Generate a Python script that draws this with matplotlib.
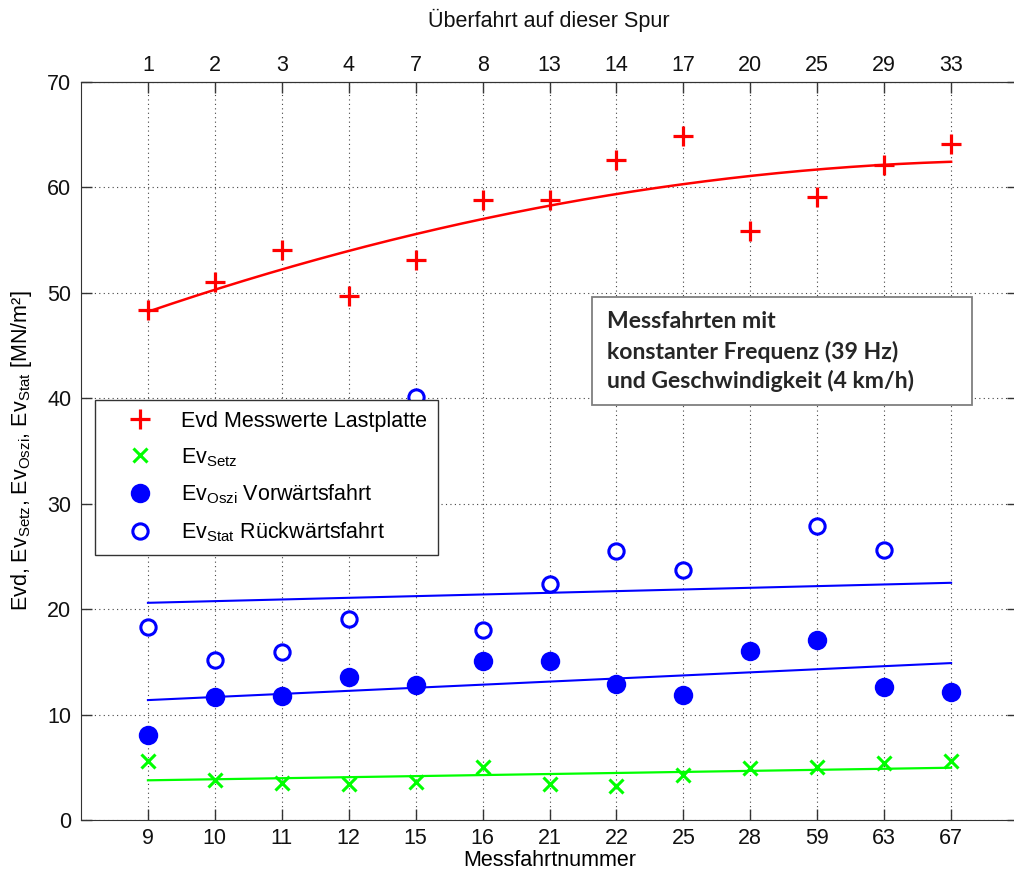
import numpy as np
import matplotlib
matplotlib.use("Agg")
import matplotlib.pyplot as plt
from matplotlib.patches import Rectangle

plt.rcParams["font.family"] = ["Liberation Sans", "DejaVu Sans"]
plt.rcParams["mathtext.fontset"] = "custom"
plt.rcParams["mathtext.rm"] = "Liberation Sans"
plt.rcParams["mathtext.default"] = "regular"

# --- data -------------------------------------------------------------
messfahrt_nr = ["9", "10", "11", "12", "15", "16", "21", "22", "25", "28", "59", "63", "67"]
ueberfahrt_nr = ["1", "2", "3", "4", "7", "8", "13", "14", "17", "20", "25", "29", "33"]

evd_lastplatte = [48.4, 51.0, 54.1, 49.7, 53.1, 58.8, 58.8, 62.6, 64.9, 55.9, 59.1, 62.1, 64.1]
ev_setz = [5.6, 3.8, 3.5, 3.4, 3.6, 5.0, 3.4, 3.2, 4.3, 4.9, 5.0, 5.4, 5.6]
ev_oszi = [8.05, 11.7, 11.8, 13.6, 12.8, 15.06, 15.06, 12.9, 11.9, 16.0, 17.1, 12.6, 12.1]
ev_stat = [18.3, 15.2, 15.9, 19.1, 40.1, 18.0, 22.4, 25.5, 23.7, np.nan, 27.9, 25.6, np.nan]

# trend of Ev_Stat (values at first and last Messfahrt)
ev_stat_trend = [20.6, 22.5]

# --- figure -----------------------------------------------------------
W, H = 1014, 877
fig = plt.figure(figsize=(W / 100, H / 100), dpi=100)
x_pos = np.arange(1, len(messfahrt_nr) + 1)
step = 66.93
ax = fig.add_axes([81 / W, 1 - 820 / H, 14 * step / W, (820 - 82) / H])

RED, GREEN, BLUE = "#ff0000", "#00ff00", "#0000ff"
FS = 15.5

# trend curves
xs = np.linspace(x_pos[0], x_pos[-1], 200)
ax.plot(xs, np.polyval(np.polyfit(x_pos, evd_lastplatte, 2), xs), color=RED, lw=1.8, zorder=3)
ax.plot(xs, np.polyval(np.polyfit(x_pos, ev_setz, 1), xs), color=GREEN, lw=1.6, zorder=3)
ax.plot(xs, np.polyval(np.polyfit(x_pos, ev_oszi, 1), xs), color=BLUE, lw=1.5, zorder=3)
ax.plot([x_pos[0], x_pos[-1]], ev_stat_trend, color=BLUE, lw=1.5, zorder=3)

# measured values
h_evd, = ax.plot(x_pos, evd_lastplatte, ls="none", marker="+", ms=14, mew=2.3, color=RED, zorder=4)
h_setz, = ax.plot(x_pos, ev_setz, ls="none", marker="x", ms=10, mew=2.2, color=GREEN, zorder=4)
h_oszi, = ax.plot(x_pos, ev_oszi, ls="none", marker="o", ms=14, mew=0, color=BLUE, zorder=4)
h_stat, = ax.plot(x_pos, ev_stat, ls="none", marker="o", ms=11, mew=2.2, mfc="white",
                  mec=BLUE, zorder=4)

# axes
ax.set_xlim(0, 14)
ax.set_ylim(0, 70)
ax.set_xticks(x_pos, messfahrt_nr)
ax.set_yticks(np.arange(0, 71, 10))
ax.grid(True, linestyle=(0, (1, 3)), color="#444444", linewidth=0.8)
ax.tick_params(direction="in", length=8, width=1, color="#333333", labelsize=FS,
               right=True, labelcolor="#111111")
ax.tick_params(axis="x", pad=6)
ax.tick_params(axis="y", pad=7)
for sp in ax.spines.values():
    sp.set_color("#333333")

ax.set_xlabel("Messfahrtnummer", fontsize=FS, va="center")
ax.xaxis.set_label_coords(0.5, (820 - 860) / 738)
ax.set_ylabel("Evd, Ev$_{Setz}$, Ev$_{Oszi}$, Ev$_{Stat}$ [MN/m²]", fontsize=FS, va="center")
ax.yaxis.set_label_coords((22 - 81) / (14 * step), 0.5)

sec = ax.secondary_xaxis("top")
sec.set_xticks(x_pos, ueberfahrt_nr)
sec.tick_params(direction="in", length=8, width=1, color="#333333", labelsize=FS, pad=4,
                labelcolor="#111111")
sec.spines["top"].set_color("#333333")
fig.text(549 / W, 1 - 20 / H, "Überfahrt auf dieser Spur", fontsize=FS, ha="center",
         va="center", color="#111111")

# legend
leg = ax.legend([h_evd, h_setz, h_oszi, h_stat],
                ["Evd Messwerte Lastplatte", "Ev$_{Setz}$",
                 "Ev$_{Oszi}$ Vorwärtsfahrt", "Ev$_{Stat}$ Rückwärtsfahrt"],
                loc="upper left", bbox_to_anchor=((95 - 81) / (14 * step), (820 - 400) / 738),
                borderaxespad=0, fontsize=FS, handlelength=3.19, handletextpad=0.31,
                borderpad=0.5, labelspacing=0.66, fancybox=False, framealpha=1,
                edgecolor="#333333")
leg.get_frame().set_linewidth(1.0)

# info box
def ax_x(px):
    return (px - 81) / (14 * step)

def ax_y(py):
    return (820 - py) / 738

box = Rectangle((ax_x(592), ax_y(405)), ax_x(972) - ax_x(592), ax_y(297) - ax_y(405),
                transform=ax.transAxes, facecolor="white", edgecolor="#7f7f7f", lw=1.3, zorder=6)
ax.add_patch(box)
info_lines = ["Messfahrten mit", "konstanter Frequenz (39 Hz)", "und Geschwindigkeit (4 km/h)"]
for line, py in zip(info_lines, [322, 352, 381]):
    ax.text(ax_x(607), ax_y(py), line, transform=ax.transAxes, fontsize=16.6,
            fontfamily="Lato", fontweight="bold", color="#262626", va="center", ha="left",
            zorder=7)

fig.savefig("out.png", dpi=100)
